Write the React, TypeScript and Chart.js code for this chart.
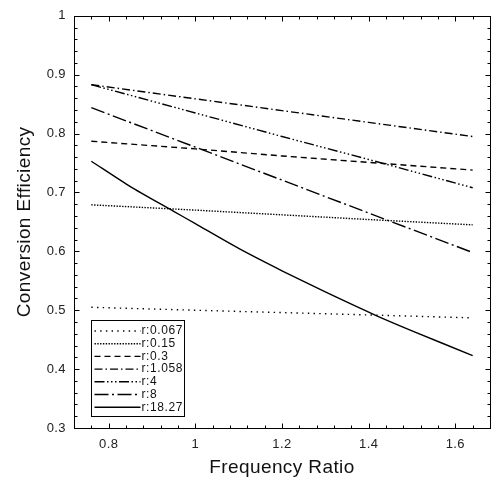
import { useEffect, useRef } from 'react'
import { Chart, registerables, type ChartConfiguration, type Plugin } from 'chart.js'

Chart.register(...registerables)

// frequency ratio samples (x) for the near-straight curves, and a finer set for r:18.27
const freqRatio = [0.76, 1.0, 1.2, 1.4, 1.64]
const freqRatioFine = [0.76, 0.85, 0.95, 1.0, 1.1, 1.2, 1.3, 1.42, 1.5, 1.64]

// conversion efficiency
const effR0067 = [0.505, 0.5, 0.496, 0.492, 0.487]
const effR015 = [0.679, 0.67, 0.662, 0.654, 0.645]
const effR03 = [0.787, 0.774, 0.762, 0.751, 0.738]
const effR1058 = [0.883, 0.859, 0.839, 0.819, 0.795]
const effR4 = [0.883, 0.835, 0.795, 0.756, 0.708]
const effR8 = [0.844, 0.777, 0.721, 0.665, 0.598]
const effR1827 = [0.753, 0.71, 0.668, 0.647, 0.605, 0.567, 0.531, 0.49, 0.465, 0.423]

const seriesLabels = ['r:0.067', 'r:0.15', 'r:0.3', 'r:1.058', 'r:4', 'r:8', 'r:18.27']

const xTicks = [0.8, 1, 1.2, 1.4, 1.6]
const yTicks = [0.3, 0.4, 0.5, 0.6, 0.7, 0.8, 0.9, 1]

const X_MIN = 0.72
const X_MAX = 1.68
const X_MINOR = 0.04
const Y_MIN = 0.3
const Y_MAX = 1
const Y_MINOR = 0.02

const FONT = '"Liberation Sans", Arial, sans-serif'

const dashes: number[][] = [
  [1.4, 4.3],
  [1.4, 1.4],
  [6, 4],
  [8, 3, 1.5, 3],
  [10, 2.5, 1.5, 2.5, 1.5, 2.5, 1.5, 2.5],
  [14, 3.5, 2, 3.5],
  [],
]

function toPoints(xs: number[], ys: number[]) {
  return xs.map((x, i) => ({ x, y: ys[i] }))
}

const near = (a: number, list: number[]) => list.some((v) => Math.abs(v - a) < 1e-6)

// the old plotting package spaces its letters out a little
const spacing: Plugin<'line'> = {
  id: 'spacing',
  beforeDraw(chart) {
    ;(chart.ctx as any).letterSpacing = '0.4px'
  },
}

// inward ticks on all four sides plus the frame
const frameTicks: Plugin<'line'> = {
  id: 'frameTicks',
  afterDraw(chart) {
    const { ctx, chartArea } = chart
    const { left, right, top, bottom } = chartArea
    const x = chart.scales.x
    const y = chart.scales.y
    ctx.save()
    ctx.strokeStyle = '#000'
    ctx.lineWidth = 1
    const l = Math.round(left) + 0.5
    const r = Math.round(right) + 0.5
    const t = Math.round(top) + 0.5
    const b = Math.round(bottom) + 0.5
    ctx.strokeRect(l, t, r - l, b - t)

    ctx.beginPath()
    const nx = Math.round((X_MAX - X_MIN) / X_MINOR)
    for (let i = 0; i <= nx; i++) {
      const v = X_MIN + i * X_MINOR
      const len = near(v, xTicks) ? 5 : 3
      const px = Math.round(x.getPixelForValue(v)) + 0.5
      ctx.moveTo(px, b)
      ctx.lineTo(px, b - len)
      ctx.moveTo(px, t)
      ctx.lineTo(px, t + len)
    }
    const ny = Math.round((Y_MAX - Y_MIN) / Y_MINOR)
    for (let i = 0; i <= ny; i++) {
      const v = Y_MIN + i * Y_MINOR
      const len = near(v, yTicks) ? 5 : 3
      const py = Math.round(y.getPixelForValue(v)) + 0.5
      ctx.moveTo(l, py)
      ctx.lineTo(l + len, py)
      ctx.moveTo(r, py)
      ctx.lineTo(r - len, py)
    }
    ctx.stroke()
    ctx.restore()
  },
}

// boxed legend in the lower-left corner of the plot
const boxLegend: Plugin<'line'> = {
  id: 'boxLegend',
  afterDraw(chart) {
    const { ctx, chartArea } = chart
    const bx = Math.round(chartArea.left) + 17.5
    const by = Math.round(chartArea.bottom) - 107.5
    const bw = 93
    const bh = 96
    ctx.save()
    ctx.fillStyle = '#fff'
    ctx.fillRect(bx, by, bw, bh)
    ctx.strokeStyle = '#000'
    ctx.lineWidth = 1
    ctx.strokeRect(bx, by, bw, bh)

    ctx.font = `12px ${FONT}`
    ;(ctx as any).letterSpacing = '0.6px'
    ctx.textBaseline = 'middle'
    ctx.textAlign = 'left'
    chart.data.datasets.forEach((ds, i) => {
      const rowY = by + 10.5 + i * 12.7
      ctx.beginPath()
      ctx.setLineDash((ds as any).borderDash ?? [])
      ctx.lineWidth = 1.4
      ctx.moveTo(bx + 3, rowY)
      ctx.lineTo(bx + 49, rowY)
      ctx.stroke()
      ctx.setLineDash([])
      ctx.fillStyle = '#111'
      ctx.fillText(ds.label ?? '', bx + 50, rowY)
    })
    ctx.restore()
  },
}

export default function App() {
  const canvasRef = useRef<HTMLCanvasElement>(null)

  useEffect(() => {
    const canvas = canvasRef.current
    if (!canvas) return

    const series = [
      toPoints(freqRatio, effR0067),
      toPoints(freqRatio, effR015),
      toPoints(freqRatio, effR03),
      toPoints(freqRatio, effR1058),
      toPoints(freqRatio, effR4),
      toPoints(freqRatio, effR8),
      toPoints(freqRatioFine, effR1827),
    ]

    const config: ChartConfiguration<'line'> = {
      type: 'line',
      data: {
        datasets: series.map((data, i) => ({
          label: seriesLabels[i],
          data,
          borderColor: '#000',
          borderWidth: 1.4,
          borderDash: dashes[i],
          pointRadius: 0,
          fill: false,
          tension: i === 6 ? 0.25 : 0,
        })),
      },
      options: {
        responsive: true,
        maintainAspectRatio: false,
        animation: false,
        events: [],
        layout: { padding: { top: 14, right: 10, left: 0, bottom: 0 } },
        plugins: {
          legend: { display: false },
          tooltip: { enabled: false },
        },
        scales: {
          x: {
            type: 'linear',
            min: X_MIN,
            max: X_MAX,
            afterBuildTicks: (scale) => {
              scale.ticks = xTicks.map((value) => ({ value }))
            },
            afterFit: (scale) => {
              scale.height = 51
            },
            ticks: {
              color: '#222',
              padding: 9,
              maxRotation: 0,
              font: { family: FONT, size: 13 },
              callback: (v) => String(Number(v)),
            },
            grid: { display: false, drawTicks: false },
            border: { display: false },
            title: {
              display: true,
              text: 'Frequency Ratio',
              color: '#111',
              font: { family: FONT, size: 19 },
              padding: { top: 0, bottom: 0 },
            },
          },
          y: {
            type: 'linear',
            min: Y_MIN,
            max: Y_MAX,
            afterBuildTicks: (scale) => {
              scale.ticks = yTicks.map((value) => ({ value }))
            },
            afterFit: (scale) => {
              scale.width = 74
            },
            ticks: {
              color: '#222',
              padding: 8,
              font: { family: FONT, size: 13 },
              callback: (v) => String(Number(v)),
            },
            grid: { display: false, drawTicks: false },
            border: { display: false },
            title: {
              display: true,
              text: 'Conversion Efficiency',
              color: '#111',
              font: { family: FONT, size: 19 },
              padding: { top: 13, bottom: 0 },
            },
          },
        },
      },
      plugins: [spacing, frameTicks, boxLegend],
    }

    const chart = new Chart(canvas, config)
    return () => {
      chart.destroy()
    }
  }, [])

  return (
    <div style={{ position: 'absolute', left: 0, top: 0, width: 500, height: 479, background: '#fff' }}>
      <canvas ref={canvasRef} />
    </div>
  )
}
